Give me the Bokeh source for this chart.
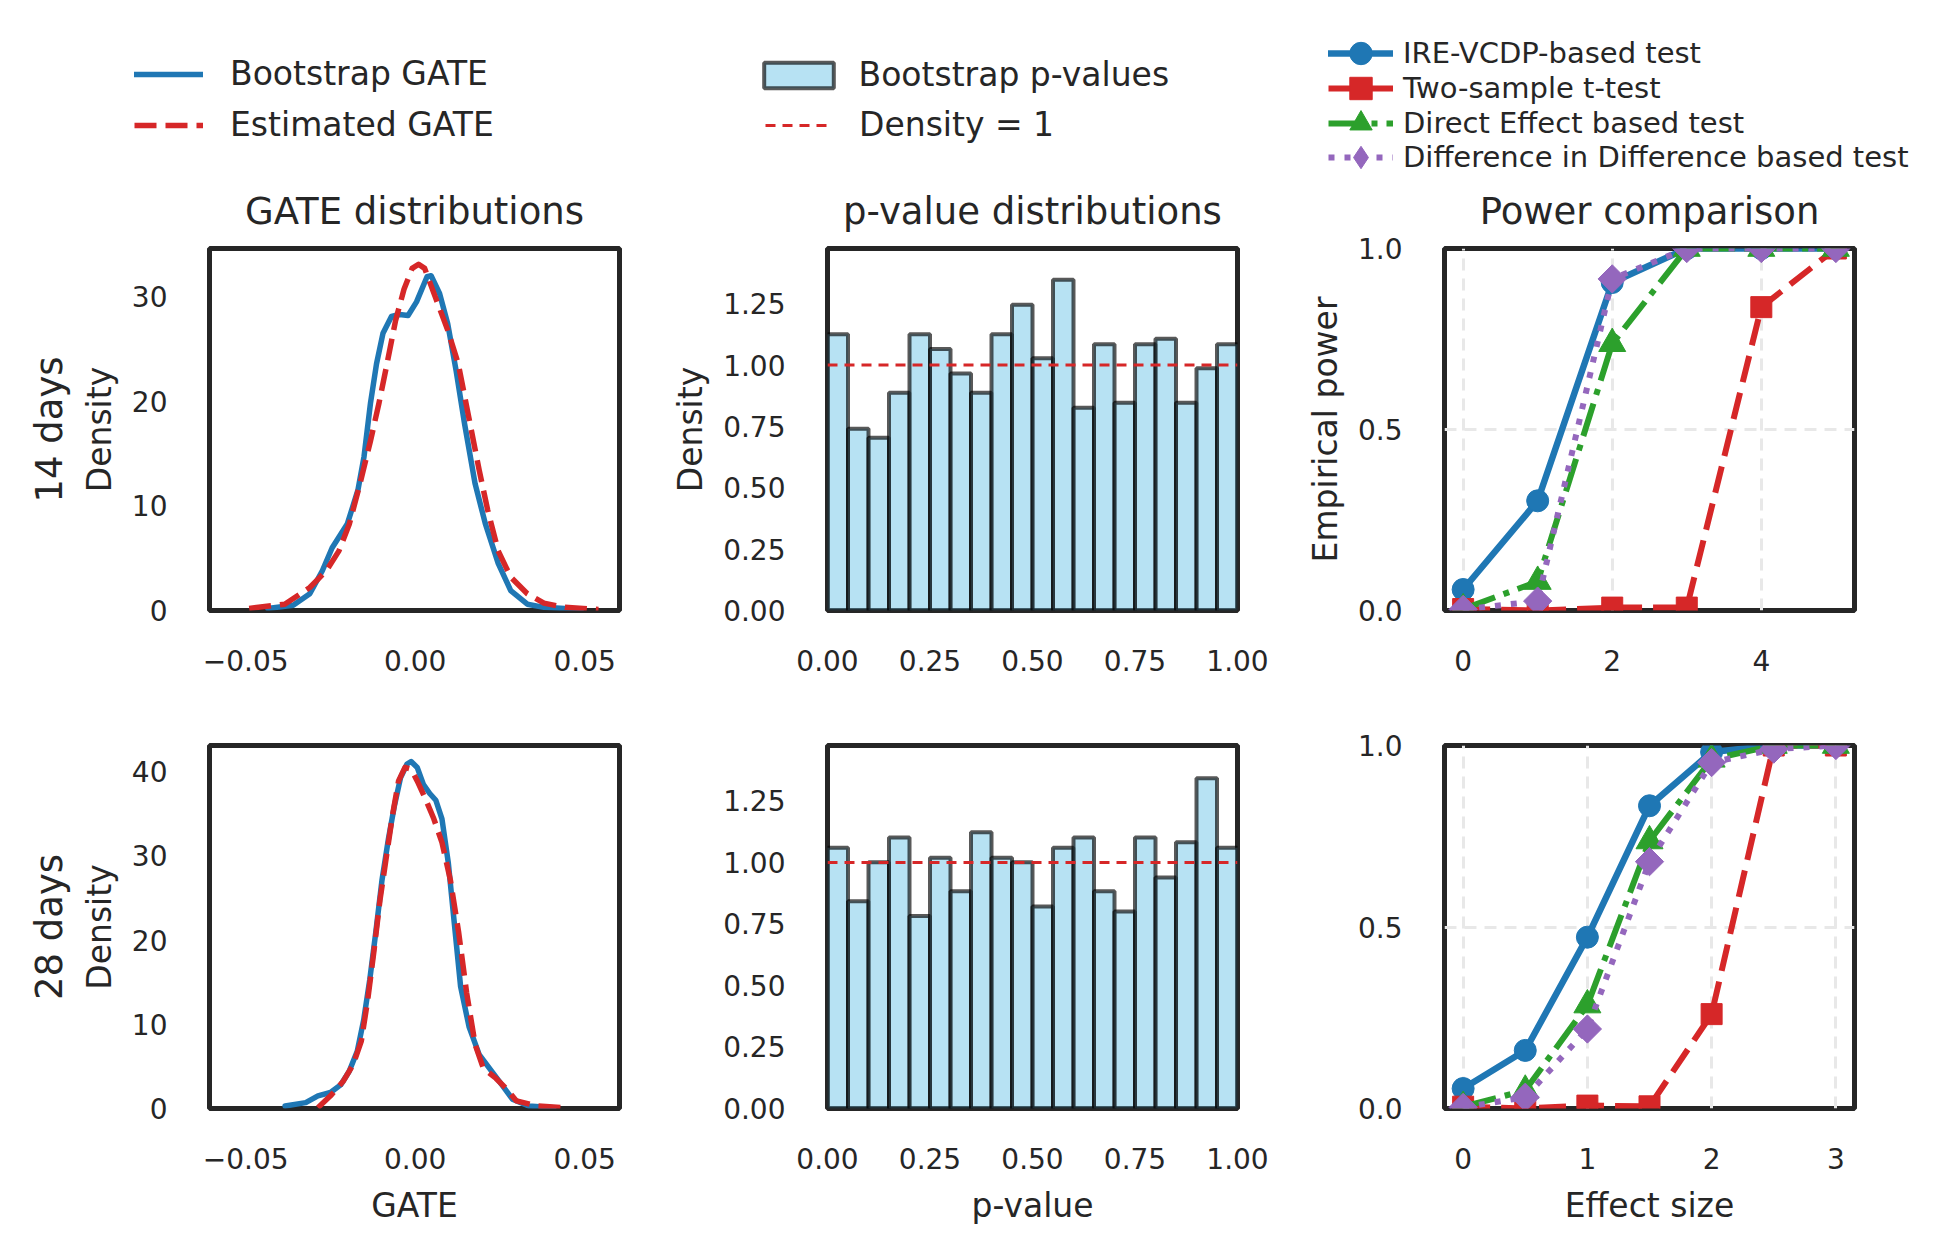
import numpy as np
from bokeh.plotting import figure
from bokeh.models import (Range1d, FixedTicker, CustomJSTickFormatter, Legend,
                          LegendItem, Title)
from bokeh.layouts import column, row
from bokeh.embed import file_html
from bokeh.resources import INLINE

FONT = "DejaVu Sans"
INK = "#262626"
BLUE, RED, GREEN, PURPLE = "#1f77b4", "#d62728", "#2ca02c", "#9467bd"

# ---------------- data ----------------
# GATE kernel densities, 14 days
gate14_boot_x = [-0.0435, -0.036, -0.0311, -0.0274, -0.0245, -0.0237, -0.020, -0.0169, -0.0151,
                 -0.0132, -0.0114, -0.0095, -0.007, -0.0046, -0.0021, 0.0004, 0.0035, 0.0047,
                 0.0072, 0.0096, 0.0121, 0.0146, 0.0177, 0.0207, 0.0245, 0.0282, 0.0331, 0.038, 0.049]
gate14_boot_y = [0.2, 0.5, 1.6, 3.8, 6.0, 6.4, 8.3, 11.5, 14.7, 19.8, 23.6, 26.5, 28.1, 28.3,
                 28.2, 29.5, 31.9, 32.0, 30.3, 27.4, 22.9, 17.8, 12.1, 8.3, 4.5, 1.9, 0.6, 0.3, 0.1]
gate14_est_x = [-0.049, -0.0385, -0.0311, -0.0262, -0.0225, -0.0194, -0.0163, -0.0132, -0.0107,
                -0.0083, -0.0058, -0.0033, -0.0009, 0.001, 0.0028, 0.0059, 0.0096, 0.0127, 0.0158,
                0.0189, 0.0214, 0.0245, 0.0282, 0.0331, 0.038, 0.0442, 0.0541]
gate14_est_y = [0.2, 0.6, 2.2, 3.8, 5.7, 8.3, 12.1, 16.2, 19.8, 23.6, 27.7, 30.7, 32.7, 33.1,
                32.7, 30.0, 26.8, 23.6, 18.5, 13.4, 9.6, 5.7, 3.2, 1.6, 0.7, 0.3, 0.1]

# GATE kernel densities, 28 days
gate28_boot_x = [-0.0384, -0.0323, -0.0287, -0.025, -0.022, -0.0195, -0.0171, -0.0152, -0.0134,
                 -0.0116, -0.0098, -0.0079, -0.0061, -0.0043, -0.0024, -0.0012, 0.0006, 0.0024,
                 0.0043, 0.0061, 0.0079, 0.0098, 0.0116, 0.0134, 0.0159, 0.0189, 0.0226, 0.0256,
                 0.0287, 0.0335, 0.0409]
gate28_boot_y = [0.3, 0.7, 1.5, 1.9, 2.8, 4.4, 6.8, 10.5, 15.3, 21.0, 27.1, 32.0, 36.0, 39.3,
                 40.9, 41.2, 40.5, 38.5, 37.4, 36.6, 34.4, 29.1, 21.8, 14.5, 9.7, 6.4, 4.4, 2.8,
                 1.1, 0.3, 0.1]
gate28_est_x = [-0.0287, -0.025, -0.0213, -0.0183, -0.0159, -0.014, -0.0122, -0.0104, -0.0085,
                -0.0067, -0.0049, -0.003, -0.0012, 0.0006, 0.003, 0.0055, 0.0079, 0.0104, 0.0128,
                0.0152, 0.0177, 0.0201, 0.0238, 0.0268, 0.0299, 0.036, 0.0433]
gate28_est_y = [0.1, 1.5, 3.2, 5.2, 8.0, 12.9, 18.6, 24.7, 29.9, 34.8, 38.9, 40.5, 40.3, 38.9,
                36.8, 34.4, 31.6, 27.1, 21.0, 13.7, 7.6, 4.8, 3.6, 2.4, 0.9, 0.3, 0.1]

# p-value histograms (20 bins on [0, 1], density)
pval_bin_edges = [i * 0.05 for i in range(21)]
pval14_density = [1.126, 0.741, 0.704, 0.887, 1.126, 1.066, 0.966, 0.887, 1.126, 1.246,
                  1.028, 1.348, 0.826, 1.085, 0.846, 1.085, 1.107, 0.846, 0.987, 1.085]
pval28_density = [1.060, 0.842, 1.001, 1.101, 0.782, 1.019, 0.883, 1.122, 1.019, 1.001,
                  0.821, 1.060, 1.101, 0.883, 0.800, 1.101, 0.939, 1.082, 1.342, 1.060]
uniform_density = 1.0

# power curves
effect14 = [0, 1, 2, 3, 4, 5]
power14_ire = [0.058, 0.303, 0.906, 1.0, 1.0, 1.0]
power14_ttest = [0.004, 0.0, 0.008, 0.008, 0.838, 1.0]
power14_direct = [0.004, 0.08, 0.737, 1.0, 1.0, 1.0]
power14_did = [0.003, 0.026, 0.916, 1.0, 1.0, 1.0]

effect28 = [0, 0.5, 1, 1.5, 2, 2.5, 3]
power28_ire = [0.055, 0.16, 0.472, 0.834, 0.982, 1.0, 1.0]
power28_ttest = [0.005, 0.0, 0.008, 0.006, 0.26, 1.0, 1.0]
power28_direct = [0.005, 0.05, 0.285, 0.737, 0.962, 1.0, 1.0]
power28_did = [0.003, 0.031, 0.219, 0.68, 0.953, 0.99, 1.0]

col_titles = ["GATE distributions", "p-value distributions", "Power comparison"]
row_labels = ["14 days", "28 days"]
gate_labels = ["Bootstrap GATE", "Estimated GATE"]
pval_labels = ["Bootstrap p-values", "Density = 1"]
test_labels = ["IRE-VCDP-based test", "Two-sample t-test", "Direct Effect based test",
               "Difference in Difference based test"]

# ---------------- styles ----------------
GATE_BOOT = dict(color=BLUE, line_width=5.5, line_join="round", line_cap="round")
GATE_EST = dict(color=RED, line_width=5.5, line_dash="22 9", line_join="round")
HIST = dict(fill_color="skyblue", fill_alpha=0.6, line_color="black", line_alpha=0.65,
            line_width=4)
REF = dict(color=RED, line_width=3, line_dash="10 7")
TESTS = [
    (dict(color=BLUE, line_width=6.5, line_cap="round"),
     dict(marker="circle", size=22, color=BLUE)),
    (dict(color=RED, line_width=6, line_dash="27 11"), dict(marker="square", size=21, color=RED)),
    (dict(color=GREEN, line_width=6, line_dash="34 9 6 9"),
     dict(marker="triangle", size=27, color=GREEN)),
    (dict(color=PURPLE, line_width=6, line_dash="6 10"),
     dict(marker="square", size=20, angle=np.pi / 4, color=PURPLE)),
]
# legend swatch markers (legend glyphs are drawn unrotated, so the diamond is explicit)
LEGEND_MARKERS = ["circle", "square", "triangle", "diamond"]


# ---------------- helpers ----------------
def make_fig(xr, yr, left, right, top, bottom, fh, title=""):
    p = figure(x_range=Range1d(*xr), y_range=Range1d(*yr), frame_width=410, frame_height=fh,
               min_border_left=left, min_border_right=right, min_border_top=top,
               min_border_bottom=bottom, toolbar_location=None, output_backend="svg",
               background_fill_color="white", border_fill_color="white", title=title)
    p.title.align = "center"
    p.title.text_font = FONT
    p.title.text_font_size = "37px"
    p.title.text_font_style = "normal"
    p.title.text_color = INK
    p.title.standoff = 31
    p.outline_line_color = INK
    p.outline_line_width = 5
    p.outline_line_alpha = 1.0
    for ax in p.axis:
        ax.axis_line_color = None
        ax.major_tick_line_color = None
        ax.minor_tick_line_color = None
        ax.major_tick_out = 0
        ax.major_tick_in = 0
        ax.minor_tick_out = 0
        ax.minor_tick_in = 0
        ax.major_label_text_font = FONT
        ax.major_label_text_font_size = "28px"
        ax.major_label_text_color = INK
        ax.axis_label_text_font = FONT
        ax.axis_label_text_font_size = "33px"
        ax.axis_label_text_font_style = "normal"
        ax.axis_label_text_color = INK
    p.xaxis.major_label_standoff = 39
    p.yaxis.major_label_standoff = 42
    p.xaxis.axis_label_standoff = 14
    p.yaxis.axis_label_standoff = 10
    p.grid.visible = False
    return p


def ticks(p, xt, yt, xd, yd):
    p.xaxis.ticker = FixedTicker(ticks=xt)
    p.yaxis.ticker = FixedTicker(ticks=yt)
    p.xaxis.formatter = CustomJSTickFormatter(
        code="return tick.toFixed(%d).replace('-', '\u2212')" % xd)
    p.yaxis.formatter = CustomJSTickFormatter(
        code="return tick.toFixed(%d).replace('-', '\u2212')" % yd)


def row_title(p, text):
    t = Title(text=text, align="center", text_font=FONT, text_font_size="37px",
              text_font_style="normal", text_color=INK, standoff=12)
    p.add_layout(t, "left")


def power_grid(p):
    p.grid.visible = True
    p.grid.grid_line_color = "#e8e8e8"
    p.grid.grid_line_dash = "12 8"
    p.grid.grid_line_width = 3


def gate_panel(p, bx, by, ex, ey):
    p.line(bx, by, **GATE_BOOT)
    p.line(ex, ey, **GATE_EST)


def pval_panel(p, dens):
    centers = [(pval_bin_edges[i] + pval_bin_edges[i + 1]) / 2 for i in range(len(dens))]
    width = pval_bin_edges[1] - pval_bin_edges[0]
    p.vbar(x=centers, top=dens, width=width, bottom=0, **HIST)
    p.line([pval_bin_edges[0], pval_bin_edges[-1]], [uniform_density] * 2, **REF)


def power_panel(p, xs, series):
    for ys, (ls, ms) in zip(series, TESTS):
        p.line(xs, ys, **ls)
        p.scatter(xs, ys, **ms)


# ---------------- legend strip (top) ----------------
LH = 172
lg = figure(x_range=Range1d(0, 1952), y_range=Range1d(0, LH), frame_width=1952,
            frame_height=LH, min_border=0, toolbar_location=None, output_backend="svg",
            background_fill_color="white", border_fill_color="white")
lg.axis.visible = False
lg.grid.visible = False
lg.outline_line_color = None

NAN = [float("nan")]
r_boot = lg.line(x=NAN, y=NAN, **GATE_BOOT)
r_est = lg.line(x=NAN, y=NAN, **GATE_EST)
r_hist = lg.vbar(x=NAN, top=NAN, width=0.05, bottom=0, **HIST)
r_ref = lg.line(x=NAN, y=NAN, **REF)
r_tests = []
for (ls, ms), mk in zip(TESTS, LEGEND_MARKERS):
    mstyle = dict(ms, marker=mk)
    mstyle.pop("angle", None)
    r_tests.append([lg.line(x=NAN, y=NAN, **ls), lg.scatter(x=NAN, y=NAN, **mstyle)])


def add_item(label, renderers, x0, yc, size, gw, gh, lh, standoff):
    L = Legend(items=[LegendItem(label=label, renderers=renderers)],
               location=(x0, LH - (yc + max(gh, lh) / 2)), label_text_font=FONT,
               label_text_font_size=size, label_text_color=INK, label_text_line_height=1.0,
               glyph_width=gw, glyph_height=gh, label_height=lh, spacing=0,
               label_standoff=standoff, padding=0, margin=0,
               border_line_alpha=0, background_fill_alpha=0)
    lg.add_layout(L)


# left legend
add_item(gate_labels[0], [r_boot], 134, 73.5, "33px", 69, 40, 40, 27)
add_item(gate_labels[1], [r_est], 134, 124.5, "33px", 69, 40, 40, 27)
# middle legend
add_item(pval_labels[0], [r_hist], 754.5, 74.5, "33px", 87, 32, 40, 17)
add_item(pval_labels[1], [r_ref], 765, 124.5, "33px", 66, 40, 40, 28)
# right legend
for name, rs, yc in zip(test_labels, r_tests, [52.5, 88.0, 123.0, 156.5]):
    add_item(name, rs, 1328, yc, "29px", 65, 56, 56, 10)

# ---------------- top row ----------------
gx = (-0.0607, 0.0603)
TOP = 248 - LH
f1 = make_fig(gx, (0, 34.6), 209, 48, TOP, 80, 362, col_titles[0])
ticks(f1, [-0.05, 0, 0.05], [0, 10, 20, 30], 2, 0)
f1.yaxis.axis_label = "Density"
row_title(f1, row_labels[0])
gate_panel(f1, gate14_boot_x, gate14_boot_y, gate14_est_x, gate14_est_y)

f2 = make_fig((0, 1), (0, 1.475), 160, 57, TOP, 80, 362, col_titles[1])
ticks(f2, [0, 0.25, 0.5, 0.75, 1.0], [0, 0.25, 0.5, 0.75, 1.0, 1.25], 2, 2)
f2.yaxis.axis_label = "Density"
pval_panel(f2, pval14_density)

f3 = make_fig((-0.25, 5.25), (0, 1), 150, 98, TOP, 80, 362, col_titles[2])
ticks(f3, [0, 2, 4], [0, 0.5, 1.0], 0, 1)
f3.yaxis.axis_label = "Empirical power"
power_grid(f3)
power_panel(f3, effect14, [power14_ire, power14_ttest, power14_direct, power14_did])

# ---------------- bottom row ----------------
f4 = make_fig(gx, (0, 43.1), 209, 48, 55, 147, 363)
ticks(f4, [-0.05, 0, 0.05], [0, 10, 20, 30, 40], 2, 0)
f4.yaxis.axis_label = "Density"
f4.xaxis.axis_label = "GATE"
row_title(f4, row_labels[1])
gate_panel(f4, gate28_boot_x, gate28_boot_y, gate28_est_x, gate28_est_y)

f5 = make_fig((0, 1), (0, 1.475), 160, 57, 55, 147, 363)
ticks(f5, [0, 0.25, 0.5, 0.75, 1.0], [0, 0.25, 0.5, 0.75, 1.0, 1.25], 2, 2)
f5.xaxis.axis_label = "p-value"
pval_panel(f5, pval28_density)

f6 = make_fig((-0.15, 3.15), (0, 1), 150, 98, 55, 147, 363)
ticks(f6, [0, 1, 2, 3], [0, 0.5, 1.0], 0, 1)
f6.xaxis.axis_label = "Effect size"
power_grid(f6)
power_panel(f6, effect28, [power28_ire, power28_ttest, power28_direct, power28_did])

layout = column(lg, row(f1, f2, f3), row(f4, f5, f6))
open("out.html", "w").write(file_html(layout, INLINE))
